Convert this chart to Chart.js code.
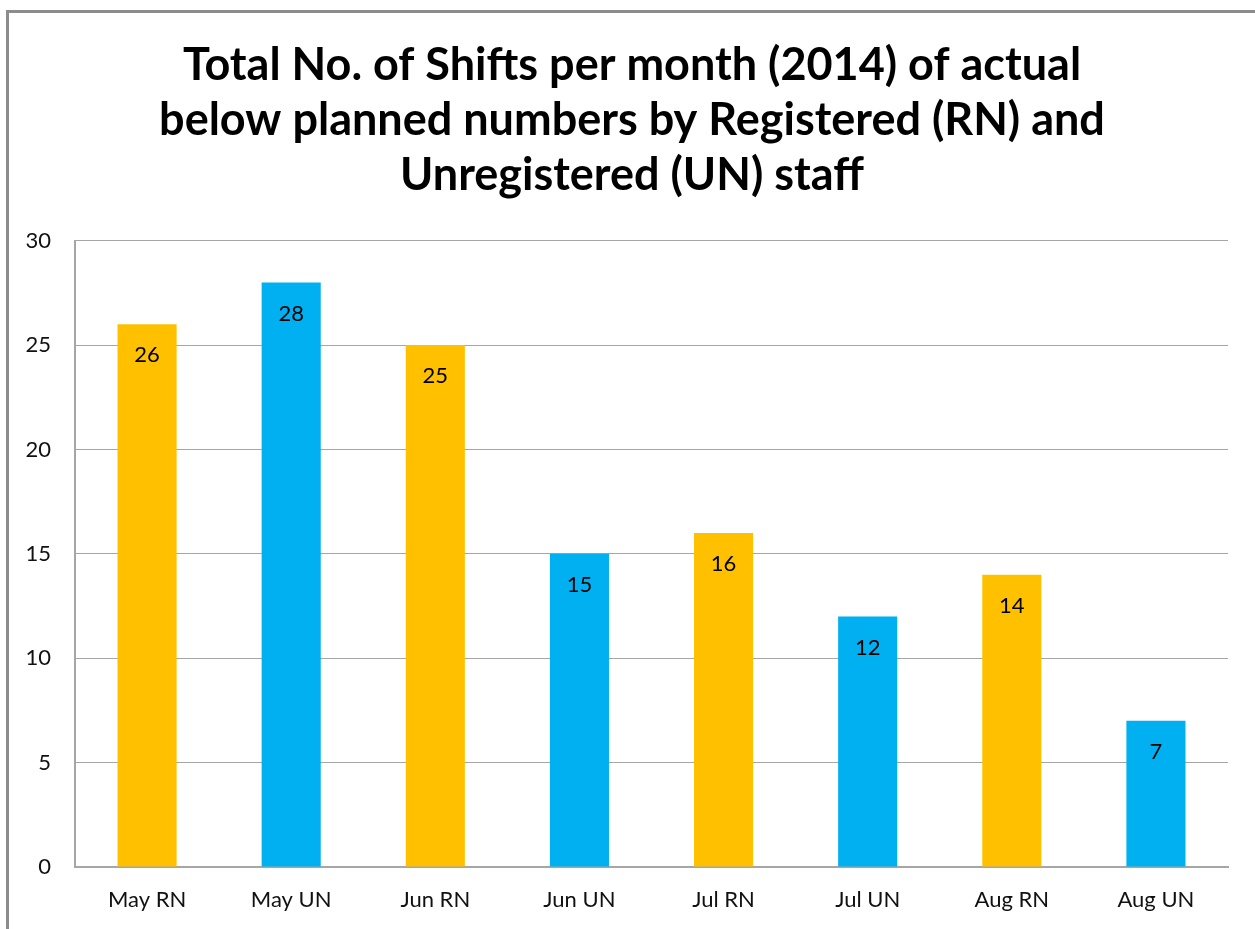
<!DOCTYPE html>
<html>
<head>
<meta charset="utf-8">
<script src="https://cdn.jsdelivr.net/npm/chart.js@4"></script>
<style>
  html, body { margin:0; padding:0; background:#fff; }
  #wrap { position:relative; width:1255px; height:929px; overflow:hidden; }
  #frame { position:absolute; left:6px; top:10px; width:1300px; height:1000px;
           border-left:3px solid #8c8c8c; border-top:3px solid #8c8c8c; }
  #chart { position:absolute; left:0; top:0; }
</style>
</head>
<body>
<div id="wrap">
  <div id="frame"></div>
  <canvas id="chart" width="1255" height="929"></canvas>
</div>
<script>
// categories and values
const categories = ['May RN', 'May UN', 'Jun RN', 'Jun UN', 'Jul RN', 'Jul UN', 'Aug RN', 'Aug UN'];
const shiftCounts = [26, 28, 25, 15, 16, 12, 14, 7];
const yTicks = [0, 5, 10, 15, 20, 25, 30];
const titleLines = [
  'Total No. of Shifts per month (2014) of actual',
  'below planned numbers by Registered (RN) and',
  'Unregistered (UN) staff'
];

const RN_COLOR = '#FFC000';
const UN_COLOR = '#00B0F0';
const FONT = 'Lato, "Open Sans", sans-serif';

// RN bars orange, UN bars blue
const barColors = categories.map(c => c.endsWith('RN') ? RN_COLOR : UN_COLOR);

// value labels drawn just inside the top of each bar
const valueLabels = {
  id: 'valueLabels',
  afterDatasetsDraw(chart) {
    const ctx = chart.ctx;
    const meta = chart.getDatasetMeta(0);
    ctx.save();
    ctx.font = '22px ' + FONT;
    ctx.fillStyle = '#000';
    ctx.textAlign = 'center';
    ctx.textBaseline = 'middle';
    meta.data.forEach((bar, i) => {
      ctx.fillText(String(shiftCounts[i]), bar.x, bar.y + 31);
    });
    ctx.restore();
  }
};

// the original title sits a little right of the canvas centre
const titleShift = {
  id: 'titleShift',
  afterLayout(chart) {
    const t = chart.titleBlock;
    if (t) { t.left += 18; t.right += 18; }
  }
};

new Chart(document.getElementById('chart'), {
  type: 'bar',
  data: {
    labels: categories,
    datasets: [{
      data: shiftCounts,
      backgroundColor: barColors,
      borderWidth: 0,
      barPercentage: 0.41,
      categoryPercentage: 1
    }]
  },
  options: {
    responsive: false,
    animation: false,
    layout: { padding: { left: 0, right: 27, top: 0, bottom: 0 } },
    plugins: {
      legend: { display: false },
      tooltip: { enabled: false },
      title: {
        display: true,
        text: titleLines,
        color: '#000',
        font: { family: FONT, size: 45, weight: 'bold', lineHeight: 1.22 },
        padding: { top: 38, bottom: 38 }
      }
    },
    scales: {
      x: {
        grid: { display: false, drawTicks: false },
        border: { display: true, color: '#a6a6a6', width: 2 },
        ticks: { color: '#111', font: { family: FONT, size: 22 }, padding: 20 },
        afterFit(scale) { scale.height = 62; }
      },
      y: {
        min: 0,
        max: 30,
        afterBuildTicks(scale) { scale.ticks = yTicks.map(v => ({ value: v })); },
        grid: { color: '#a6a6a6', lineWidth: 1, drawTicks: false },
        border: { display: true, color: '#a6a6a6', width: 2 },
        ticks: { color: '#111', font: { family: FONT, size: 22 }, padding: 24 },
        afterFit(scale) { scale.width = 75; }
      }
    }
  },
  plugins: [valueLabels, titleShift]
});
</script>
</body>
</html>
